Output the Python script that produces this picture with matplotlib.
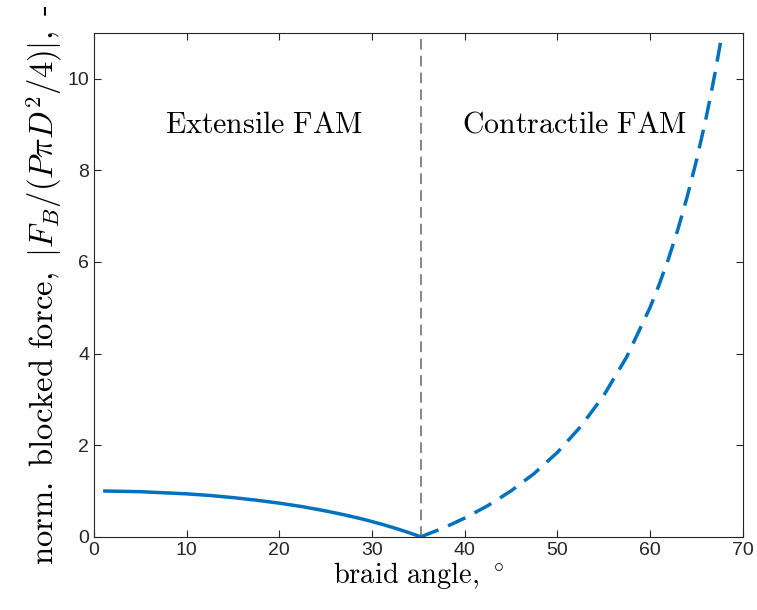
import matplotlib
matplotlib.use("Agg")
import matplotlib.pyplot as plt

plt.rcParams['mathtext.fontset'] = 'cm'
plt.rcParams['font.family'] = ['Liberation Sans', 'DejaVu Sans']

# extensile branch (solid)
ext_angle = [1, 5, 10, 12.5, 15, 17.5, 20, 22.5, 25, 27, 29, 30, 31, 32, 33, 34, 35.26]
ext_force = [1.00, 0.985, 0.938, 0.903, 0.856, 0.800, 0.735, 0.658, 0.565, 0.481, 0.386, 0.333,
             0.278, 0.219, 0.156, 0.090, 0.0]

# contractile branch (dashed)
con_angle = [35.26, 37, 38.5, 40, 42.5, 45, 47.5, 50, 52.5, 55, 57.5, 60, 61, 62, 63, 64, 65,
             66, 66.5, 67, 67.5, 68, 68.5]
con_force = [0.0, 0.136, 0.265, 0.408, 0.679, 1.0, 1.38, 1.84, 2.40, 3.08, 3.93, 5.0, 5.51,
             6.07, 6.70, 7.41, 8.20, 9.09, 9.58, 10.1, 10.66, 11.25, 11.9]

magic_angle = 35.26
region_labels = ['Extensile FAM', 'Contractile FAM']
region_x = [18.3, 51.9]

blue = '#0072BD'
fig = plt.figure(figsize=(7.57, 6.10), dpi=100)
ax = fig.add_axes([0.124, 0.12, 0.857, 0.826])

ax.plot(ext_angle, ext_force, color=blue, lw=2.5, solid_capstyle='butt')
ax.plot(con_angle, con_force, color=blue, lw=2.5, dashes=(5.5, 3))
ax.axvline(magic_angle, color='#666666', lw=1.1, dashes=(7, 4))

for lab, xx in zip(region_labels, region_x):
    ax.text(xx, 9.0, r'$\mathrm{' + lab.replace(' ', r'\ ') + '}$',
            ha='center', va='center', fontsize=21.5)

ax.set_xlim(0, 70)
ax.set_ylim(0, 11)
ax.set_xticks(range(0, 71, 10))
ax.set_yticks(range(0, 11, 2))
ax.tick_params(direction='in', length=5, width=0.8, labelsize=14,
               top=True, right=True, colors='#262626', labelcolor='#262626')
for s in ax.spines.values():
    s.set_linewidth(0.8)
    s.set_color('#262626')

ax.set_xlabel(r'$\mathrm{braid\ angle,}\ {}^{\circ}$', fontsize=20.5, labelpad=1)
ax.set_ylabel(r'$\mathrm{norm.\ blocked\ force,\ }|F_B/(P\pi D^2/4)|,\ \text{-}$',
              fontsize=23.5, labelpad=2)

fig.savefig('out.png', dpi=100)
